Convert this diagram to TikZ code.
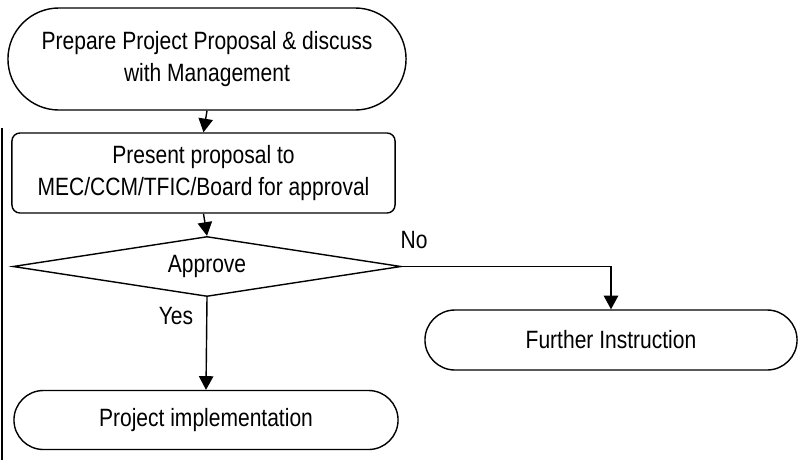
\documentclass[tikz,border=0pt]{standalone}
\usepackage{fontspec}
\setmainfont{Liberation Sans}[FakeStretch=0.84]
\usetikzlibrary{arrows.meta,shapes.geometric,shapes.misc}

\tikzset{
  flow/.style={draw, line width=1pt, align=center, font=\fontsize{17.8}{23}\selectfont},
  terminal/.style={flow, rounded rectangle, inner sep=0pt},
  process/.style={flow, rectangle, rounded corners=0.2cm, inner sep=0pt},
  decision/.style={flow, diamond, aspect=6.5, inner sep=0pt},
  link/.style={line width=1pt, -{Triangle[width=0.36cm,length=0.34cm]}},
  tag/.style={font=\fontsize{17.8}{20}\selectfont},
}

\begin{document}
\begin{tikzpicture}[x=0.025cm, y=-0.025cm]
	%%%%% START %%%%%
	\useasboundingbox (0, 0) rectangle (799, 460);

	\node[terminal, minimum width=9.95cm, minimum height=2.55cm] (prep) at (207, 59)
		{Prepare Project Proposal \& discuss\\with Management};
	\node[process, minimum width=9.575cm, minimum height=2cm] (present) at (203.5, 173)
		{Present proposal to\\MEC/CCM/TFIC/Board for approval};
	\node[decision, minimum width=9.7cm, minimum height=1.5cm] (approve) at (207, 266.5) {Approve};
	\node[terminal, minimum width=9.3cm, minimum height=1.5cm] (further) at (611, 340) {Further Instruction};
	\node[terminal, minimum width=9.6cm, minimum height=1.475cm] (impl) at (206, 420) {Project implementation};

	\draw[link] (prep.south) -- (present.north);
	\draw[link] (present.south) -- (approve.north);
	\draw[link] (approve.south) -- (impl.north);
	\draw[link] (approve.east) -| (further.north);

	\node[tag] (yes) at (176, 316) {Yes};
	\node[tag] (no) at (414, 240) {No};

	% margin rule down the left side
	\coordinate (ruletop) at (2, 128);
	\coordinate (rulebot) at (2, 460);
	\draw[line width=0.8pt] (ruletop) -- (rulebot);
	%%%%% END %%%%%
\end{tikzpicture}
\end{document}
